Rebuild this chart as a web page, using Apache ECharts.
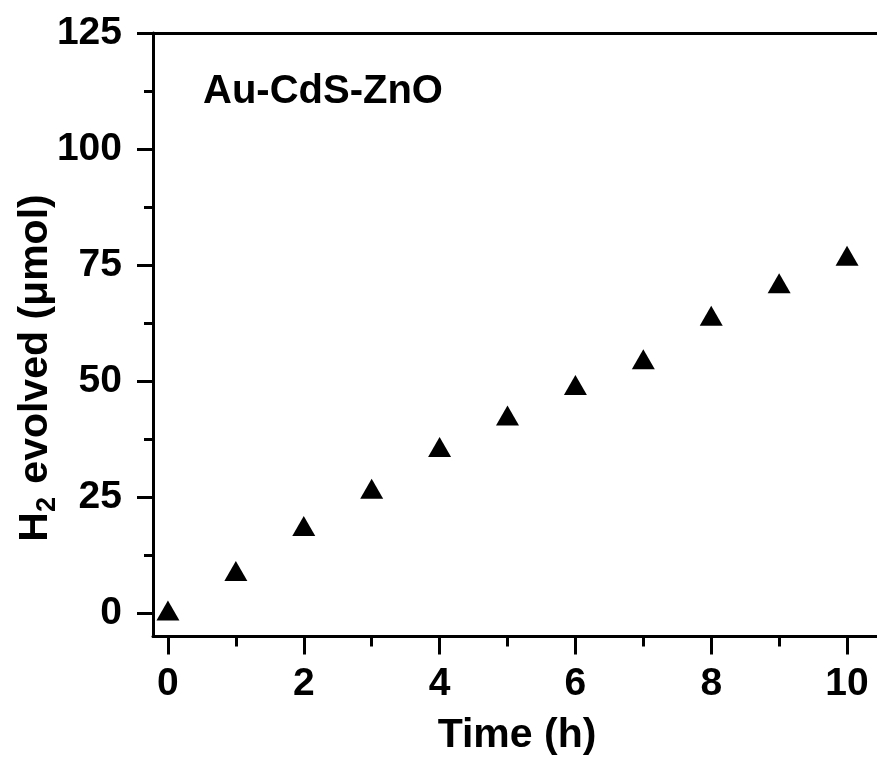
<!DOCTYPE html>
<html>
<head>
<meta charset="utf-8">
<script src="https://cdn.jsdelivr.net/npm/echarts@6/dist/echarts.min.js"></script>
<style>
html,body{margin:0;padding:0;background:#fff;}
#chart{width:877px;height:763px;}
</style>
</head>
<body>
<div id="chart"></div>
<script>
const timeValues = [0, 1, 2, 3, 4, 5, 6, 7, 8, 9, 10];
const h2Values = [0.6, 9.1, 18.8, 26.8, 35.8, 42.6, 49.2, 54.7, 64.1, 71.1, 77.0];
const xMajorTicks = [0, 2, 4, 6, 8, 10];
const xMinorTicks = [1, 3, 5, 7, 9];
const yMajorTicks = [0, 25, 50, 75, 100, 125];
const yMinorTicks = [12.5, 37.5, 62.5, 87.5, 112.5];
const sampleLabel = 'Au-CdS-ZnO';
const xTitle = 'Time (h)';

const FONT = '"Liberation Sans", Arial, Helvetica, sans-serif';
const XMIN = -0.22, XMAX = 10.5, YMIN = -5, YMAX = 125;

const chart = echarts.init(document.getElementById('chart'), null, {renderer: 'canvas'});
const lineStyle = {color: '#000', width: 3};
const labelStyle = {fontSize: 39, fontWeight: 'bold', color: '#000', fontFamily: FONT};

const option = {
  backgroundColor: '#fff',
  animation: false,
  grid: {left: 153, right: -4, top: 33, bottom: 126.5, containLabel: false, outerBoundsMode: 'none'},
  xAxis: [
    {
      type: 'value', min: XMIN, max: XMAX, position: 'bottom',
      axisLine: {show: true, onZero: false, lineStyle: lineStyle},
      axisTick: {show: true, customValues: xMajorTicks, length: 18, inside: false, lineStyle: lineStyle},
      axisLabel: Object.assign({customValues: xMajorTicks, margin: 28}, labelStyle),
      splitLine: {show: false},
      name: xTitle, nameLocation: 'middle', nameGap: 79,
      nameTextStyle: {fontSize: 41, fontWeight: 'bold', color: '#000', fontFamily: FONT}
    },
    {
      type: 'value', min: XMIN, max: XMAX, position: 'bottom',
      axisLine: {show: false, onZero: false},
      axisTick: {show: true, customValues: xMinorTicks, length: 10, inside: false, lineStyle: lineStyle},
      axisLabel: {show: false},
      splitLine: {show: false}
    },
    {
      type: 'value', min: XMIN, max: XMAX, position: 'top',
      axisLine: {show: true, onZero: false, lineStyle: lineStyle},
      axisTick: {show: false},
      axisLabel: {show: false},
      splitLine: {show: false}
    }
  ],
  yAxis: [
    {
      type: 'value', min: YMIN, max: YMAX, position: 'left',
      axisLine: {show: true, onZero: false, lineStyle: lineStyle},
      axisTick: {show: true, customValues: yMajorTicks, length: 16, inside: false, lineStyle: lineStyle},
      axisLabel: Object.assign({customValues: yMajorTicks, margin: 31}, labelStyle),
      splitLine: {show: false}
    },
    {
      type: 'value', min: YMIN, max: YMAX, position: 'left',
      axisLine: {show: false, onZero: false},
      axisTick: {show: true, customValues: yMinorTicks, length: 9, inside: false, lineStyle: lineStyle},
      axisLabel: {show: false},
      splitLine: {show: false}
    }
  ],
  series: [{
    type: 'scatter',
    xAxisIndex: 0, yAxisIndex: 0,
    symbol: 'triangle',
    symbolSize: [23, 20],
    itemStyle: {color: '#000', opacity: 1},
    emphasis: {disabled: true},
    data: timeValues.map((t, i) => [t, h2Values[i]])
  }],
  graphic: [
    {
      type: 'text', left: 203, top: 72,
      style: {text: sampleLabel, fontSize: 40, fontWeight: 'bold', fill: '#000', fontFamily: FONT}
    },
    {
      type: 'text', x: 36, y: 368, rotation: Math.PI / 2,
      style: {
        text: '{a|H}{s|2}{a| evolved (\u03bcmol)}',
        textAlign: 'center', textVerticalAlign: 'middle',
        fill: '#000',
        rich: {
          a: {fontSize: 41, fontWeight: 'bold', fontFamily: FONT, fill: '#000', lineHeight: 50, verticalAlign: 'middle'},
          s: {fontSize: 27, fontWeight: 'bold', fontFamily: FONT, fill: '#000', lineHeight: 50, verticalAlign: 'bottom', padding: [0, 2, 0, 0]}
        }
      }
    }
  ]
};
chart.setOption(option);
</script>
</body>
</html>
